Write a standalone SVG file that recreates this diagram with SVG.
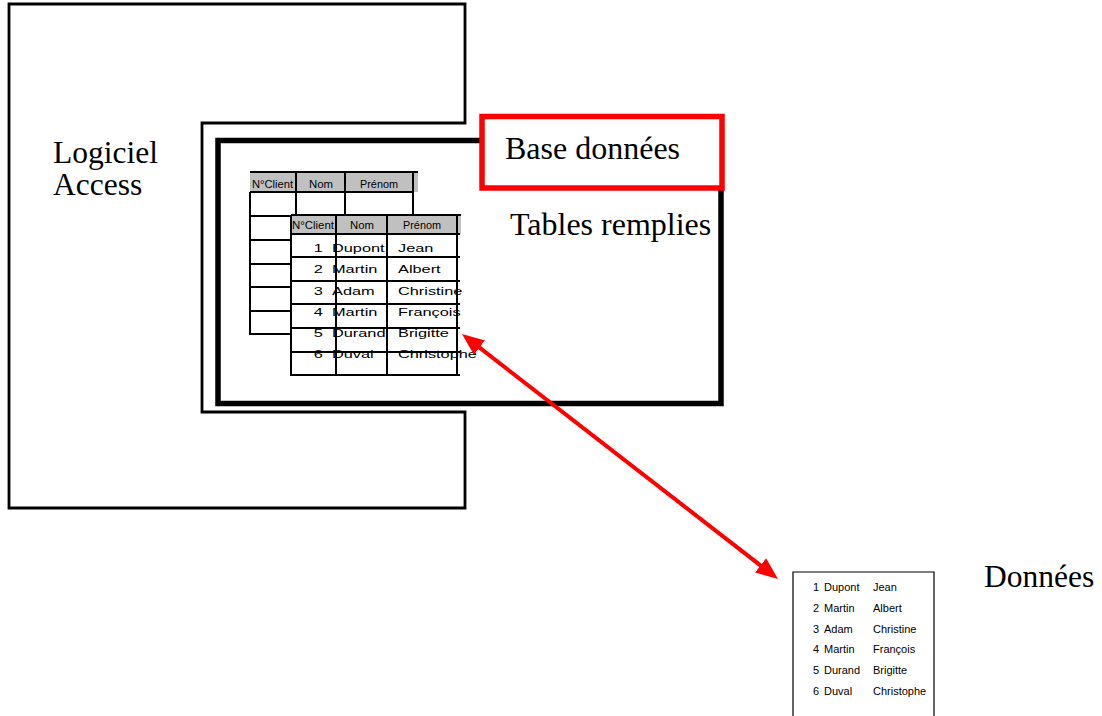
<svg xmlns="http://www.w3.org/2000/svg" width="1102" height="716" viewBox="0 0 1102 716">
<style>
.lbl{font-family:"Liberation Serif","Times New Roman",serif;font-size:31.5px;fill:#000}
.big{font-size:32px}
.hdr{font-family:"Liberation Sans",Arial,sans-serif;font-size:10px;fill:#000;text-anchor:middle}
.cell{font-family:"Liberation Sans",Arial,sans-serif;font-size:11.5px;fill:#000}
.sm{font-family:"Liberation Sans",Arial,sans-serif;font-size:11px;fill:#000}
.grid{stroke:#000;stroke-width:2;fill:none}
.gray{fill:#c0c0c0}
</style>
<defs>
<marker id="ah" markerUnits="userSpaceOnUse" markerWidth="22" markerHeight="20" refX="10" refY="10" orient="auto-start-reverse">
<path d="M0,1 L22,10 L0,19 z" fill="#ff0000"/>
</marker>
</defs>
<rect width="1102" height="716" fill="#fff"/>

<g id="logiciel-access">
<path d="M9,4 H465 V123 H202 V412 H465 V508 H9 Z" fill="#fff" stroke="#000" stroke-width="2.8"/>
<text class="lbl" x="53" y="163">Logiciel</text>
<text class="lbl" x="53" y="195">Access</text>
</g>

<g id="base-donnees-frame">
<rect x="218" y="140.5" width="503" height="263" fill="#fff" stroke="#000" stroke-width="5.5"/>
<text class="lbl big" x="510" y="235">Tables remplies</text>
</g>

<g id="base-donnees">
<rect x="482" y="116.5" width="240" height="71.5" fill="#fff" stroke="#ff0000" stroke-width="5.5"/>
<text class="lbl big" x="505" y="159">Base données</text>
</g>

<g id="table-back">
<rect class="gray" x="250" y="172" width="168" height="20"/>
<path class="grid" d="M250,172 H418 M250,192 H413 M250,216 H413 M250,240 H291 M250,264 H291 M250,287 H291 M250,311 H291 M250,334 H291 M250,192 V335 M296,172 V216 M345,172 V216 M413,172 V216"/>
<text class="hdr" x="272.5" y="187.5" textLength="41" lengthAdjust="spacingAndGlyphs">N°Client</text>
<text class="hdr" x="321" y="187.5" textLength="24" lengthAdjust="spacingAndGlyphs">Nom</text>
<text class="hdr" x="379" y="187.5" textLength="38" lengthAdjust="spacingAndGlyphs">Prénom</text>
</g>

<g id="table-front">
<rect x="291" y="215" width="170" height="160" fill="#fff"/>
<rect class="gray" x="291" y="215" width="170" height="19"/>
<text class="hdr" x="313" y="228.5" textLength="42" lengthAdjust="spacingAndGlyphs">N°Client</text>
<text class="hdr" x="362" y="228.5" textLength="24" lengthAdjust="spacingAndGlyphs">Nom</text>
<text class="hdr" x="422" y="228.5" textLength="38" lengthAdjust="spacingAndGlyphs">Prénom</text>
<g transform="translate(332,0) scale(1.42,1)">
<text class="cell" x="-6.5" y="252" text-anchor="end">1</text>
<text class="cell" x="0" y="252">Dupont</text>
<text class="cell" x="46.5" y="252">Jean</text>
<text class="cell" x="-6.5" y="273.5" text-anchor="end">2</text>
<text class="cell" x="0" y="273.5">Martin</text>
<text class="cell" x="46.5" y="273.5">Albert</text>
<text class="cell" x="-6.5" y="295" text-anchor="end">3</text>
<text class="cell" x="0" y="295">Adam</text>
<text class="cell" x="46.5" y="295">Christine</text>
<text class="cell" x="-6.5" y="316" text-anchor="end">4</text>
<text class="cell" x="0" y="316">Martin</text>
<text class="cell" x="46.5" y="316">François</text>
<text class="cell" x="-6.5" y="337.5" text-anchor="end">5</text>
<text class="cell" x="0" y="337.5">Durand</text>
<text class="cell" x="46.5" y="337.5">Brigitte</text>
<text class="cell" x="-6.5" y="358.5" text-anchor="end">6</text>
<text class="cell" x="0" y="358.5">Duval</text>
<text class="cell" x="46.5" y="358.5">Christophe</text>
</g>
<path class="grid" d="M291,215 H461 M291,234 H460 M291,257 H460 M291,281 H460 M291,304 H460 M291,328 H460 M291,352 H460 M291,375 H460 M291,215 V376 M336,215 V376 M387,215 V376 M457,215 V376"/>
</g>

<g id="donnees">
<path d="M793,716 V572 H934 V716" fill="#fff" stroke="#000" stroke-width="1.2"/>
<g class="sm">
<text x="819" y="591" text-anchor="end">1</text><text x="824" y="591">Dupont</text><text x="873" y="591">Jean</text>
<text x="819" y="612" text-anchor="end">2</text><text x="824" y="612">Martin</text><text x="873" y="612">Albert</text>
<text x="819" y="632.5" text-anchor="end">3</text><text x="824" y="632.5">Adam</text><text x="873" y="632.5">Christine</text>
<text x="819" y="653" text-anchor="end">4</text><text x="824" y="653">Martin</text><text x="873" y="653">François</text>
<text x="819" y="673.5" text-anchor="end">5</text><text x="824" y="673.5">Durand</text><text x="873" y="673.5">Brigitte</text>
<text x="819" y="694.5" text-anchor="end">6</text><text x="824" y="694.5">Duval</text><text x="873" y="694.5">Christophe</text>
</g>
<text class="lbl" x="984" y="587">Données</text>
</g>

<g id="connectors">
<line x1="471.5" y1="341.4" x2="768.5" y2="571.6" stroke="#ff0000" stroke-width="4" marker-start="url(#ah)" marker-end="url(#ah)"/>
</g>
</svg>
